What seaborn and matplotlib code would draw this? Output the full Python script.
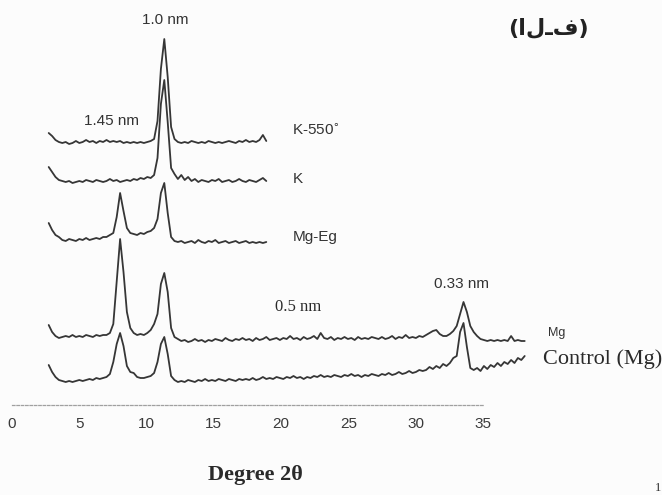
import numpy as np
import pandas as pd
import matplotlib
matplotlib.use("Agg")
import matplotlib.pyplot as plt
import seaborn as sns

sns.set_theme(style="white")
plt.rcParams['font.family'] = ['Liberation Sans', 'DejaVu Sans']

# ---------------- data (relative intensity, arbitrary units) ----------------
two_theta_short = np.round(np.arange(2.1, 14.95, 0.2), 2)   # 65 points
two_theta_long = np.round(np.arange(2.1, 30.15, 0.2), 2)    # 141 points

k550 = [10, 7, 3, 1, 0, 1, -1, 0, 2, 0, 1, 3, 1, 2, 0, 2, 1, 3, 1, 2,
        1, 2, 0, 1, 0, 1, 0, 1, 0, 1, 2, 4, 22, 74, 104, 66, 16, 4, 1, 0,
        1, 0, 2, 1, 0, 1, 0, 2, 1, 0, 1, 0, 1, 2, 1, 0, 2, 1, 3, 1,
        2, 1, 3, 8, 2]

k_sat = [15, 10, 5, 2, 1, 0, 1, -1, 0, 1, 0, 2, 1, 0, 2, 1, 0, 1, 3, 1,
         2, 0, 1, 2, 1, 3, 2, 4, 3, 5, 4, 7, 24, 78, 102, 60, 14, 8, 3, 7,
         2, 5, 1, 3, 0, 2, 1, 0, 2, 1, 3, 0, 1, 2, 0, 1, 3, 1, 0, 2,
         1, 0, 2, 4, 1]

mg_eg = [20, 13, 8, 6, 3, 2, 4, 3, 2, 4, 3, 5, 3, 4, 5, 4, 6, 6, 8, 10,
         26, 50, 32, 15, 10, 9, 8, 10, 9, 11, 12, 15, 24, 50, 60, 30, 6, 2, 1, 2,
         0, 1, 2, 0, 3, 1, 0, 2, 1, 3, 0, 1, 2, 0, 1, 2, 0, 1, 2, 0,
         1, 0, 1, 0, 1]

mg_sat = [17, 10, 6, 4, 5, 6, 5, 7, 5, 6, 5, 7, 6, 5, 7, 6, 7, 7, 9, 18,
          60, 103, 70, 30, 14, 9, 7, 8, 7, 9, 12, 18, 28, 58, 69, 50, 14, 5,
          3, 1, 2, 0, 1, 3, 1, 2, 0, 2,
          1, 3, 2, 1, 4, 2, 1, 3, 2, 4,
          2, 3, 1, 4, 2, 3, 5, 2, 3, 4,
          2, 4, 3, 6, 3, 4, 2, 5, 3, 4,
          6, 3, 9, 4, 3, 5, 2, 4, 3, 5,
          3, 4, 2, 5, 3, 4, 3, 5, 4, 3,
          5, 3, 4, 6, 3, 5, 4, 7, 4, 5,
          4, 6, 5,
          7, 9, 11, 12, 8, 6, 6, 8, 11, 16, 28, 40, 30, 16, 10, 6, 3, 2, 1, 2,
          1, 2, 1, 2, 1, 6, 1, 2, 1, 1]

control = [17, 10, 5, 2, 1, 0, 1, 0, 1, 2, 1, 2, 3, 2, 4, 3, 4, 5, 8, 20,
           38, 49, 36, 16, 10, 9, 5, 4, 4, 5, 6, 9, 20, 38, 45, 28, 6, 2,
           0, 1, 0, 2, 1, 0, 2, 1, 3, 1,
           2, 1, 3, 2, 1, 3, 2, 1, 3, 2,
           3, 2, 4, 2, 3, 5, 3, 4, 3, 5,
           4, 3, 5, 4, 6, 4, 5, 3, 5, 4,
           6, 5, 7, 5, 6, 5, 7, 6, 5, 7,
           6, 8, 6, 7, 5, 7, 6, 8, 7, 6,
           8, 7, 9, 7, 8, 10, 8, 9, 11, 9,
           10, 12, 11,
           12, 15, 13, 16, 14, 18, 16, 19, 24, 26, 50, 59, 35, 14, 12, 14, 11, 16, 13, 17,
           15, 19, 16, 20, 18, 22, 19, 24, 22, 26]

samples = ["K-550", "K", "Mg-Eg", "Mg", "Control (Mg)"]
offsets = [352, 313, 252, 153, 113]          # vertical stacking of the patterns
series = [k550, k_sat, mg_eg, mg_sat, control]
grids = [two_theta_short, two_theta_short, two_theta_short, two_theta_long, two_theta_long]

tick_values = [0, 5, 10, 15, 20, 25, 30, 35]

frames = []
for name, off, vals, xs in zip(samples, offsets, series, grids):
    frames.append(pd.DataFrame({"two_theta": xs,
                                "signal": off + np.asarray(vals, float),
                                "sample": name}))
df = pd.concat(frames, ignore_index=True)

# ---------------- figure ----------------
W, H = 662, 495
fig = plt.figure(figsize=(W / 100, H / 100), dpi=100)
fig.patch.set_facecolor("#fcfcfc")

ax = fig.add_axes([0, 0, 1, 1])
ax.set_facecolor("none")
sns.lineplot(data=df, x="two_theta", y="signal", hue="sample", units="sample",
             estimator=None, palette=["#363636"] * len(samples), legend=False,
             linewidth=1.3, ax=ax, sort=True)
ax.set_xlim(-13 / 17, (W - 13) / 17)
ax.set_ylim(0, H)
ax.axis("off")

# labelled 2-theta axis (dotted)
axx = fig.add_axes([12 / W, 90 / H, 471 / W, 0.0001])
axx.set_facecolor("none")
axx.set_xlim(tick_values[0], tick_values[-1])
axx.set_xticks(tick_values)
axx.set_xticklabels([str(t) for t in tick_values])
axx.set_yticks([])
for s in ["top", "left", "right"]:
    axx.spines[s].set_visible(False)
axx.spines["bottom"].set_linestyle((0, (2, 1.5)))
axx.spines["bottom"].set_color("#a0a0a0")
axx.spines["bottom"].set_linewidth(0.9)
axx.tick_params(axis="x", length=0, pad=9, labelsize=11, labelcolor="#3a3a3a")


def ftext(x, y, s, **kw):
    fig.text(x / W, 1 - y / H, s, **kw)


sans = dict(family=["Liberation Sans", "DejaVu Sans"], color="#333333")
serif = dict(family=["Liberation Serif", "DejaVu Serif"], color="#2a2a2a")

ftext(165, 20, "1.0 nm", ha="center", va="center", fontsize=11, **sans)
ftext(112, 121, "1.45 nm", ha="center", va="center", fontsize=11, **sans)
ftext(292, 130, r"K-550$^{\circ}$", ha="left", va="center", fontsize=11, **sans)
ftext(293, 179, "K", ha="left", va="center", fontsize=11, **sans)
ftext(293, 237, "Mg-Eg", ha="left", va="center", fontsize=11, **sans)
ftext(275, 307, "0.5 nm", ha="left", va="center", fontsize=12, **serif)
ftext(462, 284, "0.33 nm", ha="center", va="center", fontsize=11, **sans)
ftext(548, 333, "Mg", ha="left", va="center", fontsize=9, **sans)
ftext(543, 359, "Control (Mg)", ha="left", va="center", fontsize=16, **serif)
ftext(548, 28, "(الـف)", ha="center", va="center", fontsize=16,
      family=["DejaVu Sans"], fontweight="bold", color="#222222")
ftext(255, 475, "Degree 2θ", ha="center", va="center", fontsize=16,
      fontweight="bold", **serif)
ftext(655, 488, "1", ha="left", va="center", fontsize=9, **serif)

fig.savefig("out.png", dpi=100, facecolor=fig.get_facecolor())
